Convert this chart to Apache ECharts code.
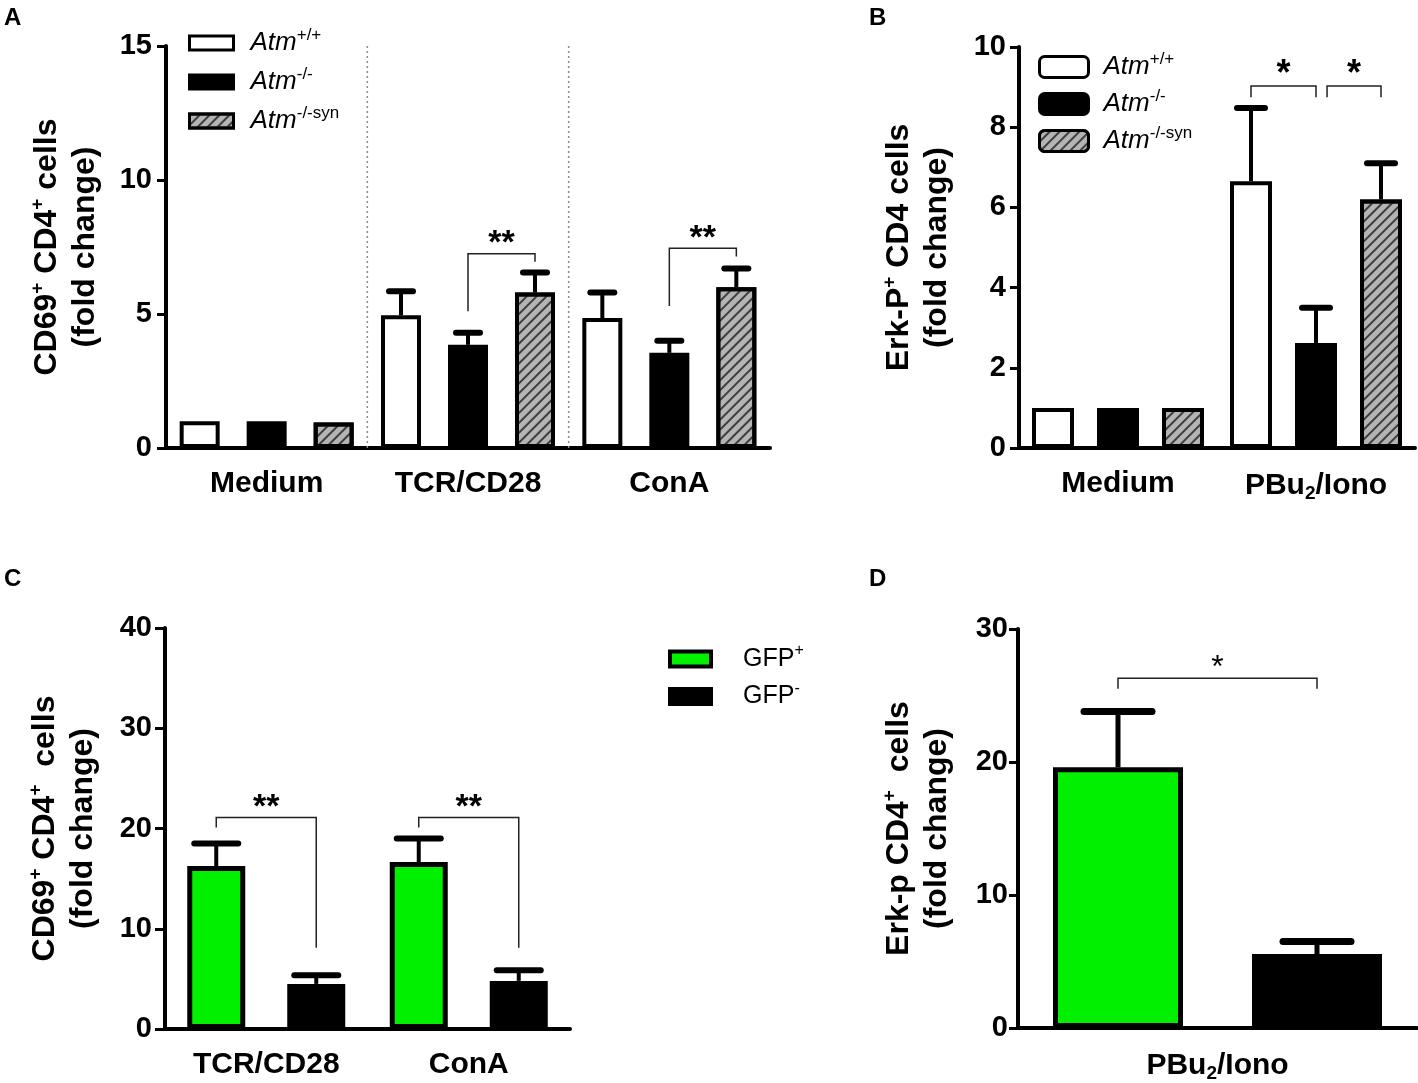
<!DOCTYPE html>
<html>
<head>
<meta charset="utf-8">
<title>CD69 / Erk-P fold change</title>
<script src="https://cdn.jsdelivr.net/npm/echarts@6/dist/echarts.min.js"></script>
<style>
  html, body { margin: 0; padding: 0; background: #fff; }
  #main { width: 1418px; height: 1083px; }
</style>
</head>
<body>
<div id="main"></div>
<script>
// ---- panel A : CD69+ CD4+ cells, Atm genotypes ----
var catsA = ['Medium', 'TCR/CD28', 'ConA'];
var wtA = [1.0, 4.95, 4.85];
var wtErrA = [0, 0.9, 0.95];
var koA = [1.0, 3.85, 3.55];
var koErrA = [0, 0.45, 0.45];
var synA = [0.95, 5.8, 6.0];
var synErrA = [0, 0.75, 0.7];
var ticksA = [0, 5, 10, 15];
// [category, fromBar, toBar, leftLegBottom, top, rightLegBottom]
var bracketsA = [[1, 1, 2, 5.1, 7.25, 6.95], [2, 1, 2, 5.3, 7.45, 7.15]];
var starsA = ['**', '**'];
var separatorsA = [0, 1];

// ---- panel B : Erk-P+ CD4 cells, Atm genotypes ----
var catsB = ['Medium', 'PBu₂/Iono'];
var wtB = [1.0, 6.65];
var wtErrB = [0, 1.83];
var koB = [1.0, 2.62];
var koErrB = [0, 0.88];
var synB = [1.0, 6.2];
var synErrB = [0, 0.9];
var ticksB = [0, 2, 4, 6, 8, 10];
var bracketsB = [[1, 0, 1, 8.75, 9.03, 8.75], [1, 1.17, 2, 8.75, 9.03, 8.75]];
var starsB = ['*', '*'];

// ---- panel C : CD69+ CD4+ cells, GFP ----
var catsC = ['TCR/CD28', 'ConA'];
var gfpPosC = [16.25, 16.65];
var gfpPosErrC = [2.25, 2.35];
var gfpNegC = [4.5, 4.8];
var gfpNegErrC = [0.85, 1.05];
var ticksC = [0, 10, 20, 30, 40];
var bracketsC = [[0, 0, 1, 20.1, 21.1, 8.1], [1, 0, 1, 20.1, 21.1, 8.1]];
var starsC = ['**', '**'];

// ---- panel D : Erk-p CD4+ cells, GFP ----
var catsD = ['PBu₂/Iono'];
var gfpPosD = [19.6];
var gfpPosErrD = [4.2];
var gfpNegD = [5.56];
var gfpNegErrD = [0.95];
var ticksD = [0, 10, 20, 30];
var bracketsD = [[0, 0, 1, 25.5, 26.3, 25.5]];
var starsD = ['*'];

var FONT = "'Liberation Sans', Arial, sans-serif";
var GREEN = '#00f000';

// bar geometry per panel (pixels)
var geo = [
    { bw: 40, gap: 27, n: 3, cap: 12, lw: 4 },
    { bw: 42, gap: 23, n: 3, cap: 14, lw: 4 },
    { bw: 58, gap: 42, n: 2, cap: 22, lw: 4 },
    { bw: 130, gap: 69, n: 2, cap: 34, lw: 5 }
];

function barOffset(g, pos) {
    return (pos - (g.n - 1) / 2) * (g.bw + g.gap);
}

var hatch = {
    symbol: 'rect',
    symbolSize: 1,
    color: 'rgba(40,40,40,0.85)',
    dashArrayX: [1, 0],
    dashArrayY: [2, 5],
    rotation: -Math.PI / 4
};

var styles = {
    wt: { color: '#fff', borderColor: '#000', borderWidth: 4 },
    ko: { color: '#000', borderColor: '#000', borderWidth: 4 },
    syn: { color: '#b4b4b4', borderColor: '#000', borderWidth: 4, decal: hatch },
    pos: { color: GREEN, borderColor: '#000', borderWidth: 5 },
    neg: { color: '#000', borderColor: '#000', borderWidth: 5 }
};

function bar(name, data, idx, style) {
    var g = geo[idx];
    return {
        name: name,
        type: 'bar',
        xAxisIndex: idx,
        yAxisIndex: idx,
        data: data,
        barWidth: g.bw,
        barGap: (g.gap / g.bw * 100) + '%',
        itemStyle: style,
        emphasis: { disabled: true },
        z: 2
    };
}

function errBars(means, errs, idx, pos) {
    var g = geo[idx];
    var off = barOffset(g, pos);
    return {
        type: 'custom',
        xAxisIndex: idx,
        yAxisIndex: idx,
        z: 3,
        silent: true,
        data: means.map(function (m, i) { return [i, m, errs[i]]; }),
        renderItem: function (params, api) {
            var e = api.value(2);
            if (!e) return null;
            var c = api.value(0), m = api.value(1);
            var p0 = api.coord([c, m]);
            var p1 = api.coord([c, m + e]);
            var x = p0[0] + off;
            return {
                type: 'group',
                children: [
                    { type: 'line', shape: { x1: x, y1: p0[1], x2: x, y2: p1[1] }, style: { stroke: '#000', lineWidth: g.lw } },
                    { type: 'line', shape: { x1: x - g.cap, y1: p1[1], x2: x + g.cap, y2: p1[1] }, style: { stroke: '#000', lineWidth: g.lw + 2, lineCap: 'round' } }
                ]
            };
        }
    };
}

function brackets(list, stars, idx, fontSize, weight) {
    var g = geo[idx];
    return {
        type: 'custom',
        xAxisIndex: idx,
        yAxisIndex: idx,
        z: 4,
        silent: true,
        data: list,
        renderItem: function (params, api) {
            var c = api.value(0);
            var xa = api.coord([c, 0])[0] + barOffset(g, api.value(1));
            var xb = api.coord([c, 0])[0] + barOffset(g, api.value(2));
            var yl = api.coord([c, api.value(3)])[1];
            var yt = api.coord([c, api.value(4)])[1];
            var yr = api.coord([c, api.value(5)])[1];
            return {
                type: 'group',
                children: [
                    { type: 'polyline', shape: { points: [[xa, yl], [xa, yt], [xb, yt], [xb, yr]] }, style: { stroke: '#222', lineWidth: 1.5, fill: null } },
                    { type: 'text', x: (xa + xb) / 2, y: yt + fontSize * 0.2, style: { text: stars[params.dataIndex], fontSize: fontSize, fontWeight: weight, fontFamily: FONT, fill: '#000', align: 'center', verticalAlign: 'bottom' } }
                ]
            };
        }
    };
}

function separators(list, idx, top) {
    return {
        type: 'custom',
        xAxisIndex: idx,
        yAxisIndex: idx,
        z: 1,
        silent: true,
        data: list.map(function (c) { return [c, 0]; }),
        renderItem: function (params, api) {
            var c = api.value(0);
            var x = (api.coord([c, 0])[0] + api.coord([c + 1, 0])[0]) / 2;
            var y0 = api.coord([c, 0])[1];
            var y1 = api.coord([c, top])[1];
            return { type: 'line', shape: { x1: x, y1: y0, x2: x, y2: y1 }, style: { stroke: '#8a8a8a', lineWidth: 1.5, lineDash: [2, 3] } };
        }
    };
}

var tickRich = {
    t: { fontSize: 30, fontWeight: 'bold', fontFamily: FONT, color: '#000' },
    b: { fontSize: 19, fontWeight: 'bold', fontFamily: FONT, color: '#000', verticalAlign: 'bottom', padding: [15, 0, 0, 0] }
};

function catFormatter(v) {
    return '{t|' + v.replace('₂', '}{b|2}{t|') + '}';
}

function xAxis(idx, cats, margin) {
    return {
        type: 'category',
        gridIndex: idx,
        data: cats,
        axisLine: { lineStyle: { color: '#000', width: 4 } },
        axisTick: { show: false },
        splitLine: { show: false },
        axisLabel: { margin: margin, formatter: catFormatter, rich: tickRich }
    };
}

function yAxis(idx, ticks, name, gap, tickLen, margin) {
    return {
        type: 'value',
        gridIndex: idx,
        min: ticks[0],
        max: ticks[ticks.length - 1],
        interval: ticks[1] - ticks[0],
        axisLine: { show: true, lineStyle: { color: '#000', width: 4 } },
        axisTick: { show: true, length: tickLen, lineStyle: { color: '#000', width: 3 } },
        splitLine: { show: false },
        axisLabel: { margin: margin, fontSize: 29, fontWeight: 'bold', fontFamily: FONT, color: '#000' },
        name: name,
        nameLocation: 'middle',
        nameRotate: 90,
        nameGap: gap,
        nameTextStyle: {
            color: '#000',
            rich: {
                t: { fontSize: 32, fontWeight: 'bold', fontFamily: FONT, color: '#000', lineHeight: 38 },
                s: { fontSize: 19, fontWeight: 'bold', fontFamily: FONT, color: '#000', verticalAlign: 'top', lineHeight: 38, padding: [0, 0, 14, 0] }
            }
        }
    };
}

var legendRich = function (pad) {
    return {
        i: { fontSize: 26, fontStyle: 'italic', fontFamily: FONT, color: '#000', padding: [0, 0, 0, pad], lineHeight: 32 },
        s: { fontSize: 17, fontFamily: FONT, color: '#000', verticalAlign: 'top', padding: [0, 0, 12, 0] },
        g: { fontSize: 25, fontFamily: FONT, color: '#000', padding: [0, 0, 0, pad], lineHeight: 32 },
        p: { fontSize: 16, fontFamily: FONT, color: '#000', verticalAlign: 'top', padding: [0, 0, 12, 0] }
    };
};

var legendLabels = {
    'Atm+/+': '{i|Atm}{s|+/+}',
    'Atm-/-': '{i|Atm}{s|-/-}',
    'Atm-/-syn': '{i|Atm}{s|-/-syn}',
    'GFP+': '{g|GFP}{p|+}',
    'GFP-': '{g|GFP}{p|-}'
};

var chart = echarts.init(document.getElementById('main'));

var option = {
    backgroundColor: '#fff',
    animation: false,
    grid: [
        { left: 166, top: 46, width: 604, height: 402 },
        { left: 1019, top: 47, width: 396, height: 401 },
        { left: 165, top: 628, width: 405, height: 401 },
        { left: 1018, top: 629, width: 399, height: 399 }
    ],
    xAxis: [
        xAxis(0, catsA, 21),
        xAxis(1, catsB, 21),
        xAxis(2, catsC, 21),
        xAxis(3, catsD, 21)
    ],
    yAxis: [
        yAxis(0, ticksA, '{t|CD69}{s|+}{t| CD4}{s|+}{t| cells}\n{t|(fold change)}', 62, 9, 14),
        yAxis(1, ticksB, '{t|Erk-P}{s|+}{t| CD4 cells}\n{t|(fold change)}', 63, 9, 13),
        yAxis(2, ticksC, '{t|CD69}{s|+}{t| CD4}{s|+}{t|  cells}\n{t|(fold change)}', 63, 10, 13),
        yAxis(3, ticksD, '{t|Erk-p CD4}{s|+}{t|  cells}\n{t|(fold change)}', 62, 9, 10)
    ],
    legend: [
        {
            orient: 'vertical', left: 183, top: 22, itemWidth: 44, itemHeight: 14, itemGap: 10,
            icon: 'rect', selectedMode: false,
            data: ['Atm+/+', 'Atm-/-', 'Atm-/-syn'],
            itemStyle: { borderWidth: 3, borderColor: '#000' },
            formatter: function (n) { return legendLabels[n]; },
            textStyle: { rich: legendRich(12) }
        },
        {
            orient: 'vertical', left: 1033, top: 46, itemWidth: 49, itemHeight: 21, itemGap: 8,
            icon: 'roundRect', selectedMode: false,
            data: ['Atm+/+', 'Atm-/-', 'Atm-/-syn'],
            itemStyle: { borderWidth: 3, borderColor: '#000' },
            formatter: function (n) { return legendLabels[n]; },
            textStyle: { rich: legendRich(10) }
        },
        {
            orient: 'vertical', left: 663, top: 638, itemWidth: 41, itemHeight: 15, itemGap: 9,
            icon: 'rect', selectedMode: false,
            data: ['GFP+', 'GFP-'],
            itemStyle: { borderWidth: 4, borderColor: '#000' },
            formatter: function (n) { return legendLabels[n]; },
            textStyle: { rich: legendRich(27) }
        }
    ],
    graphic: [
        { type: 'text', left: 4, top: 6, style: { text: 'A', fontSize: 24, fontWeight: 'bold', fontFamily: FONT, fill: '#000' } },
        { type: 'text', left: 869, top: 6, style: { text: 'B', fontSize: 24, fontWeight: 'bold', fontFamily: FONT, fill: '#000' } },
        { type: 'text', left: 4, top: 567, style: { text: 'C', fontSize: 24, fontWeight: 'bold', fontFamily: FONT, fill: '#000' } },
        { type: 'text', left: 869, top: 567, style: { text: 'D', fontSize: 24, fontWeight: 'bold', fontFamily: FONT, fill: '#000' } }
    ],
    series: [
        bar('Atm+/+', wtA, 0, styles.wt),
        bar('Atm-/-', koA, 0, styles.ko),
        bar('Atm-/-syn', synA, 0, styles.syn),
        errBars(wtA, wtErrA, 0, 0),
        errBars(koA, koErrA, 0, 1),
        errBars(synA, synErrA, 0, 2),
        brackets(bracketsA, starsA, 0, 34, 'bold'),
        separators(separatorsA, 0, 15),

        bar('Atm+/+', wtB, 1, styles.wt),
        bar('Atm-/-', koB, 1, styles.ko),
        bar('Atm-/-syn', synB, 1, styles.syn),
        errBars(wtB, wtErrB, 1, 0),
        errBars(koB, koErrB, 1, 1),
        errBars(synB, synErrB, 1, 2),
        brackets(bracketsB, starsB, 1, 36, 'bold'),

        bar('GFP+', gfpPosC, 2, styles.pos),
        bar('GFP-', gfpNegC, 2, styles.neg),
        errBars(gfpPosC, gfpPosErrC, 2, 0),
        errBars(gfpNegC, gfpNegErrC, 2, 1),
        brackets(bracketsC, starsC, 2, 34, 'bold'),

        bar('GFP+', gfpPosD, 3, styles.pos),
        bar('GFP-', gfpNegD, 3, styles.neg),
        errBars(gfpPosD, gfpPosErrD, 3, 0),
        errBars(gfpNegD, gfpNegErrD, 3, 1),
        brackets(bracketsD, starsD, 3, 32, 'normal')
    ]
};

chart.setOption(option);
</script>
</body>
</html>
